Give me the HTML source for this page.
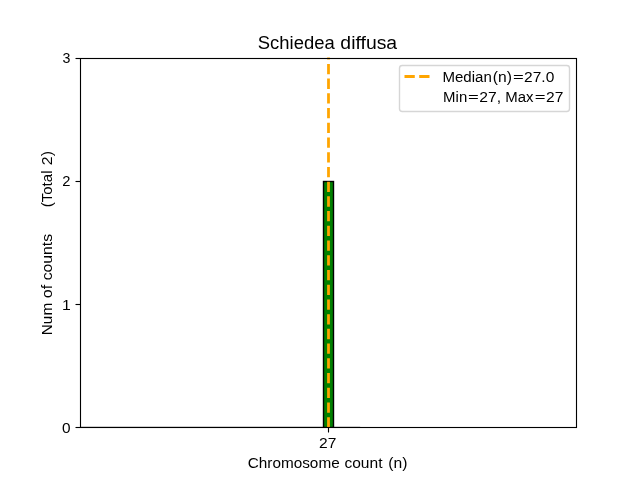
<!DOCTYPE html>
<html><head><meta charset="utf-8">
<style>
html,body{margin:0;padding:0;background:#fff;}
body{width:640px;height:480px;overflow:hidden;}
svg{display:block;}
text{font-family:"Liberation Sans",sans-serif;fill:#000;}
</style></head><body>
<svg width="640" height="480" viewBox="0 0 640 480">
  <rect width="640" height="480" fill="#fff"/>
  <defs><clipPath id="ax"><rect x="80" y="57.6" width="496" height="369.9"/></clipPath></defs>
  <g clip-path="url(#ax)">
  <!-- faint zero-height bar edge -->
  <line x1="80" y1="426.5" x2="360.2" y2="426.5" stroke="#000" stroke-opacity="0.15" stroke-width="1"/>
  <!-- bar -->
  <rect x="323.5" y="181.5" width="10" height="246" fill="#008000" stroke="#000" stroke-width="1.39"/>
  <!-- median dashed line -->
  <line x1="328.5" y1="427.45" x2="328.5" y2="57" stroke="#ffa500" stroke-width="2.78" stroke-dasharray="10.28 4.44"/>
  </g>
  <!-- axes frame -->
  <rect x="80.5" y="58.5" width="496" height="369" fill="none" stroke="#000" stroke-width="1.11"/>
  <!-- ticks -->
  <g stroke="#000" stroke-width="1.11">
    <line x1="75.5" y1="58.5" x2="80.5" y2="58.5"/>
    <line x1="75.5" y1="181.5" x2="80.5" y2="181.5"/>
    <line x1="75.5" y1="304.5" x2="80.5" y2="304.5"/>
    <line x1="75.5" y1="427.5" x2="80.5" y2="427.5"/>
    <line x1="328.5" y1="427.5" x2="328.5" y2="432.5"/>
  </g>
  <!-- legend -->
  <rect x="399.5" y="65.5" width="170" height="46" rx="2.78" ry="2.78" fill="#fff" fill-opacity="0.8" stroke="#ccc" stroke-opacity="0.8" stroke-width="1.39"/>
  <line x1="404.5" y1="76.5" x2="432.3" y2="76.5" stroke="#ffa500" stroke-width="2.78" stroke-dasharray="10.28 4.44"/>
  <g style="filter:grayscale(1)">
  <text id="t1" transform="translate(257.79,49.12) scale(0.9874,1)" font-size="18.68">Schiedea</text>
  <text id="t2" transform="translate(340.37,48.68) scale(1.0667,1)" font-size="18.20">diffusa</text>
  <text id="y3" transform="translate(62.61,63.35) scale(1.0245,1)" font-size="13.89">3</text>
  <text id="y2" transform="translate(62.35,186.36) scale(1.0629,1)" font-size="13.85">2</text>
  <text id="y1" transform="translate(61.99,310.05) scale(1.0787,1)" font-size="14.64">1</text>
  <text id="y0" transform="translate(62.12,433.41) scale(1.1066,1)" font-size="13.90">0</text>
  <text id="x27" transform="translate(319.11,448.21) scale(1.0923,1)" font-size="14.28">27</text>
  <text id="xl1" transform="translate(247.75,468.27) scale(1.0785,1)" font-size="14.22">Chromosome</text>
  <text id="xl2" transform="translate(344.39,468.39) scale(1.0881,1)" font-size="14.32">count</text>
  <text id="xl3" transform="translate(388.37,468.05) scale(1.1039,1)" font-size="14.19">(n)</text>
  <text id="yl1" transform="translate(52.26,335.24) rotate(-90) scale(1.1013,1)" font-size="13.96">Num</text>
  <text id="yl2" transform="translate(52.19,298.34) rotate(-90) scale(1.1563,1)" font-size="13.99">of</text>
  <text id="yl3" transform="translate(52.12,280.28) rotate(-90) scale(1.0972,1)" font-size="14.34">counts</text>
  <text id="yl4" transform="translate(52.05,207.31) rotate(-90) scale(1.0452,1)" font-size="14.40">(Total</text>
  <text id="yl5" transform="translate(52.03,165.15) rotate(-90) scale(1.1200,1)" font-size="14.15">2)</text>
  <text id="l1a" transform="translate(442.48,82.08) scale(1.0323,1)" font-size="14.58">Median</text>
  <text id="l1b" transform="translate(492.76,81.98) scale(1.1017,1)" font-size="14.19">(n)</text>
  <text id="l1c" transform="translate(512.92,81.26) scale(1.3471,1)" font-size="13.69">=</text>
  <text id="l1d" transform="translate(524.12,82.06) scale(1.1004,1)" font-size="14.10">27.0</text>
  <text id="l2a" transform="translate(443.12,101.76) scale(1.0774,1)" font-size="13.87">Min</text>
  <text id="l2b" transform="translate(468.12,101.26) scale(1.3471,1)" font-size="13.69">=</text>
  <text id="l2c" transform="translate(479.33,102.14) scale(1.1416,1)" font-size="13.77">27,</text>
  <text id="l2d" transform="translate(505.37,102.00) scale(1.0438,1)" font-size="14.33">Max</text>
  <text id="l2e" transform="translate(534.82,101.26) scale(1.3471,1)" font-size="13.69">=</text>
  <text id="l2f" transform="translate(546.10,101.91) scale(1.0928,1)" font-size="14.27">27</text>
  </g>
</svg>
</body></html>
